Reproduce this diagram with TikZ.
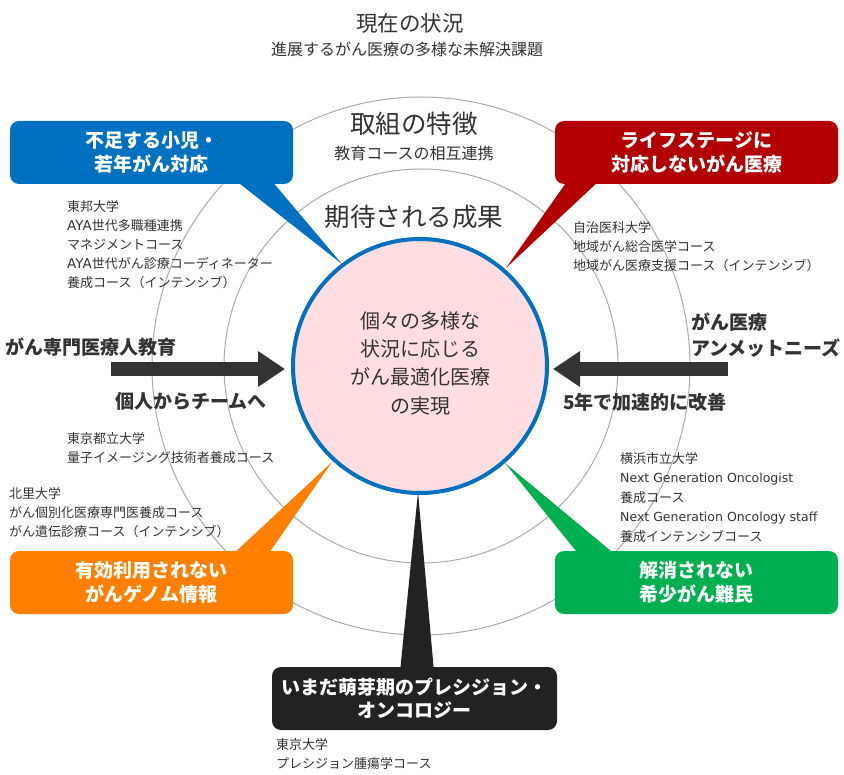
\documentclass[tikz,border=0pt]{standalone}
\usepackage{fontspec}
\setmainfont{Noto Sans CJK JP}
\newfontfamily\latinfont{DejaVu Sans}
\usetikzlibrary{arrows.meta}
\definecolor{cblue}{RGB}{0,112,192}
\definecolor{cred}{RGB}{178,0,0}
\definecolor{corange}{RGB}{255,128,0}
\definecolor{cgreen}{RGB}{0,176,80}
\definecolor{cblack}{RGB}{34,34,34}
\definecolor{cpink}{RGB}{255,221,224}
\definecolor{ringgray}{RGB}{170,170,170}
\definecolor{tgray}{RGB}{51,51,51}
\definecolor{agray}{RGB}{51,51,51}
\begin{document}
\begin{tikzpicture}[x=1pt,y=-1pt,
  txt/.style={inner sep=0pt,text=tgray},
  small/.style={txt,font=\fontsize{13}{19.2}\selectfont,align=left,anchor=north west},
  head/.style={txt,font=\fontsize{25.5}{30}\selectfont},
  sub/.style={txt,font=\fontsize{16}{20}\selectfont},
  armlabel/.style={txt,font=\bfseries\fontsize{19}{26}\selectfont},
  callout/.style={rounded corners=9pt,inner sep=0pt,minimum width=283pt,minimum height=63pt,
    text=white,font=\bfseries\fontsize{19}{23.5}\selectfont,align=center},
  ring/.style={draw=ringgray,line width=1pt},
  bigarrow/.style={draw=agray,line width=14pt,-{Triangle[width=34pt,length=27pt]}}
]
\useasboundingbox (0,0) rectangle (844,775);

% rings
\draw[ring] (421,366) circle[radius=269];
\draw[ring] (421,366) circle[radius=197];

% titles
\node[txt,font=\fontsize{21.5}{26}\selectfont] (title) at (410,23) {現在の状況};
\node[sub] (subtitle) at (407,49.5) {進展するがん医療の多様な未解決課題};
\node[head] (torikumi) at (414,124) {取組の特徴};
\node[sub] (renkei) at (414,153.5) {教育コースの相互連携};
\node[head] (kitai) at (414,217) {期待される成果};

% pointer coordinates
\coordinate (b1) at (235,180); \coordinate (b2) at (271,180); \coordinate (bt) at (342,264);
\coordinate (r1) at (568,180); \coordinate (r2) at (600,180); \coordinate (rt) at (506,268);
\coordinate (o1) at (231,556); \coordinate (o2) at (267,556); \coordinate (ot) at (332,462);
\coordinate (g1) at (580,556); \coordinate (g2) at (617,556); \coordinate (gt) at (505,463);
\coordinate (k1) at (400,672); \coordinate (k2) at (434,672); \coordinate (kt) at (418,492);

% pointers
\fill[cblue] (b1) -- (b2) -- (bt) -- cycle;
\fill[cred] (r1) -- (r2) -- (rt) -- cycle;
\fill[corange] (o1) -- (o2) -- (ot) -- cycle;
\fill[cgreen] (g1) -- (g2) -- (gt) -- cycle;
\fill[cblack] (k1) -- (k2) -- (kt) -- cycle;

% callout boxes
\node[callout,fill=cblue] (bluebox) at (151.5,152.5) {不足する小児・\\若年がん対応};
\node[callout,fill=cred] (redbox) at (696.5,152.5) {ライフステージに\\対応しないがん医療};
\node[callout,fill=corange] (orangebox) at (151.5,582.5) {有効利用されない\\がんゲノム情報};
\node[callout,fill=cgreen] (greenbox) at (696.5,582.5) {解消されない\\希少がん難民};
\node[callout,fill=cblack,minimum width=285pt] (blackbox) at (414.5,698.5) {いまだ萌芽期のプレシジョン・\\オンコロジー};

% center circle
\node[circle,draw=cblue,line width=4pt,fill=cpink,minimum size=254pt,inner sep=0pt] (core) at (420,366) {};
\node[txt,font=\fontsize{20}{28.3}\selectfont,align=center] (coretext) at (420,363) {個々の多様な\\状況に応じる\\がん最適化医療\\の実現};

% arrows
\coordinate (la1) at (111,369); \coordinate (la2) at (285,369);
\coordinate (ra1) at (728,369); \coordinate (ra2) at (553,369);
\draw[bigarrow] (la1) -- (la2);
\draw[bigarrow] (ra1) -- (ra2);
\node[armlabel,anchor=west] (lefttop) at (5,347) {がん専門医療人教育};
\node[armlabel,anchor=west] (leftbot) at (115,401) {個人からチームへ};
\node[armlabel,anchor=west,align=left] (righttop) at (691,335) {がん医療\\アンメットニーズ};
\node[armlabel,anchor=west] (rightbot) at (563,402) {5年で加速的に改善};

% course lists
\node[small] (list1) at (67,200) {東邦大学\\{\latinfont\fontsize{13.5}{19.2}\selectfont AYA}世代多職種連携\\マネジメントコース\\{\latinfont\fontsize{13.5}{19.2}\selectfont AYA}世代がん診療コーディネーター\\養成コース（インテンシブ）};
\node[small] (list2) at (573,221) {自治医科大学\\地域がん総合医学コース\\地域がん医療支援コース（インテンシブ）};
\node[small] (list3) at (67,432) {東京都立大学\\量子イメージング技術者養成コース};
\node[small] (list4) at (9,487) {北里大学\\がん個別化医療専門医養成コース\\がん遺伝診療コース（インテンシブ）};
\node[small,font=\fontsize{13}{19.5}\selectfont] (list5) at (620,452) {横浜市立大学\\{\latinfont\fontsize{12.5}{19.5}\selectfont Next Generation Oncologist}\\養成コース\\{\latinfont\fontsize{12.5}{19.5}\selectfont Next Generation Oncology staff}\\養成インテンシブコース};
\node[small] (list6) at (276,738) {東京大学\\プレシジョン腫瘍学コース};
\end{tikzpicture}
\end{document}
